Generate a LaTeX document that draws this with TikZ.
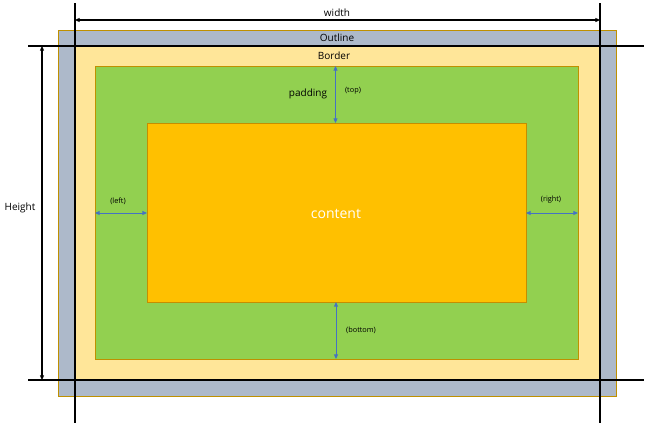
\documentclass[tikz,border=0pt]{standalone}
\usepackage{fontspec}
\setmainfont{Open Sans}
\usetikzlibrary{arrows.meta,fit}
\definecolor{outlinec}{HTML}{ADB9CA}
\definecolor{borderc}{HTML}{FFE699}
\definecolor{padc}{HTML}{92D050}
\definecolor{contc}{HTML}{FFC000}
\definecolor{edgec}{HTML}{BF9000}
\definecolor{arrc}{HTML}{4472C4}
\tikzset{
  box/.style={inner sep=0pt, outer sep=0pt, line width=0.75pt},
  guide/.style={line width=0.8pt, black},
  dim/.style={line width=0.8pt, black, {Triangle[length=3.5pt,width=3pt]}-{Triangle[length=3.5pt,width=3pt]}},
  gap/.style={line width=0.75pt, arrc, {Triangle[length=3.5pt,width=3pt]}-{Triangle[length=3.5pt,width=3pt]}},
  lbl/.style={font=\fontsize{7.5}{9}\selectfont, inner sep=0pt},
  small/.style={font=\fontsize{5.5}{7}\selectfont, inner sep=0pt},
}
\begin{document}
\begin{tikzpicture}[x=0.75pt,y=-0.75pt]
\useasboundingbox (0,0) rectangle (658,426);
% corners
\coordinate (o1) at (58,30); \coordinate (o2) at (616,396);
\coordinate (b1) at (75,46); \coordinate (b2) at (600,380);
\coordinate (p1) at (95,66); \coordinate (p2) at (578,359);
\coordinate (c1) at (147,123); \coordinate (c2) at (526,302);
\node[box, fit=(o1)(o2), fill=outlinec, draw=edgec] (outline) {};
\node[box, fit=(b1)(b2), fill=borderc] (border) {};
\node[box, fit=(p1)(p2), fill=padc, draw=edgec] (padding) {};
\node[box, fit=(c1)(c2), fill=contc, draw=edgec!90!orange] (content) {};
% guides
\coordinate (gl1) at (75,3); \coordinate (gl2) at (75,423);
\coordinate (gr1) at (600,3); \coordinate (gr2) at (600,423);
\coordinate (gt1) at (28,46); \coordinate (gt2) at (644,46);
\coordinate (gb1) at (28,380); \coordinate (gb2) at (644,380);
\draw[guide] (gl1) -- (gl2);
\draw[guide] (gr1) -- (gr2);
\draw[guide] (gt1) -- (gt2);
\draw[guide] (gb1) -- (gb2);
% dimension arrows
\coordinate (wl) at (75,20); \coordinate (wr) at (600,20);
\draw[dim] (wl) -- (wr);
\node[lbl] (wlab) at (337,13) {width};
\coordinate (ht) at (42,46); \coordinate (hb) at (42,380);
\draw[dim] (ht) -- (hb);
\node[lbl] (hlab) at (20,208) {Height};
\node[lbl] (olab) at (337,37.5) {Outline};
\node[lbl] (blab) at (334,55.5) {Border};
% padding arrows
\coordinate (tt) at (335.5,66); \coordinate (tb) at (335.5,123);
\draw[gap] (tt) -- (tb);
\node[lbl] (plab) at (308,93.5) {padding};
\node[small] (toplab) at (353,91) {(top)};
\coordinate (bt) at (336,302); \coordinate (bb) at (336,359);
\draw[gap] (bt) -- (bb);
\node[small] (botlab) at (361,330) {(bottom)};
\coordinate (ll) at (95,213); \coordinate (lr) at (147,213);
\draw[gap] (ll) -- (lr);
\node[small] (leftlab) at (118,201) {(left)};
\coordinate (rl) at (526,213); \coordinate (rr) at (578,213);
\draw[gap] (rl) -- (rr);
\node[small] (rightlab) at (551,199.5) {(right)};
\node[font=\fontsize{10.5}{12}\selectfont, text=white, inner sep=0pt] (clab) at (336,214) {content};
\end{tikzpicture}
\end{document}
